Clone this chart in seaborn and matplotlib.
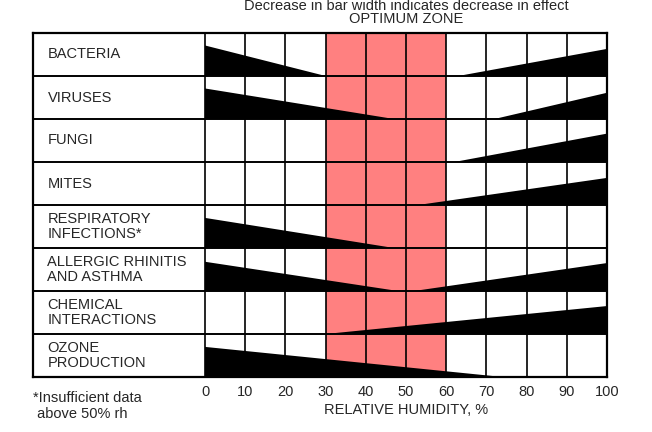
import numpy as np
import seaborn as sns
import matplotlib.pyplot as plt
from matplotlib.transforms import blended_transform_factory

# Effects and their wedge shapes (fraction of row height, RH % where wedge vanishes)
effects = ['BACTERIA', 'VIRUSES', 'FUNGI', 'MITES', 'RESPIRATORY\nINFECTIONS*',
           'ALLERGIC RHINITIS\nAND ASTHMA', 'CHEMICAL\nINTERACTIONS', 'OZONE\nPRODUCTION']
left_height = [0.71, 0.71, 0, 0, 0.70, 0.68, 0, 0.70]     # bar width at 0% rh
left_end = [30, 47, 0, 0, 47, 48, 0, 74]                  # rh where left bar ends
right_start = [63, 72, 62, 53, None, 52, 30, None]        # rh where right bar starts
right_height = [0.63, 0.61, 0.66, 0.63, 0, 0.65, 0.65, 0]  # bar width at 100% rh
rh_ticks = [0, 10, 20, 30, 40, 50, 60, 70, 80, 90, 100]
optimum = (30, 60)

sns.set_theme(style='white')
plt.rcParams['font.family'] = ['Liberation Sans', 'DejaVu Sans']
fs = 10.5

fig = plt.figure(figsize=(6.52, 4.32), dpi=100)
ax = fig.add_axes([33 / 652, 55 / 432, 574 / 652, 344 / 432])
x_min = -(205 - 33) / 4.02
ax.set_xlim(x_min, 100)
ax.set_ylim(len(effects), 0)

# optimum zone
ax.axvspan(optimum[0], optimum[1], color='#ff8080', zorder=0, lw=0)

# wedges
for i, name in enumerate(effects):
    bottom = i + 1
    if left_height[i] > 0:
        ax.fill([0, 0, left_end[i]], [bottom, bottom - left_height[i], bottom],
                color='black', lw=0, zorder=2)
    if right_start[i] is not None and right_height[i] > 0:
        ax.fill([right_start[i], 100, 100], [bottom, bottom - right_height[i], bottom],
                color='black', lw=0, zorder=2)
    ax.text(x_min + 3.6, i + 0.5, name, va='center', ha='left', fontsize=fs,
            linespacing=1.05, zorder=3)

# grid
for x in rh_ticks:
    ax.axvline(x, color='black', lw=1.2, zorder=1)
for j in range(1, len(effects)):
    ax.axhline(j, color='black', lw=1.4, zorder=3)
for s in ax.spines.values():
    s.set_color('black')
    s.set_linewidth(1.6)
    s.set_visible(True)

ax.set_xticks(rh_ticks)
ax.set_xticklabels([str(t) for t in rh_ticks], fontsize=fs)
ax.tick_params(axis='x', length=0, pad=6)
ax.set_yticks([])

tr = blended_transform_factory(ax.transData, fig.transFigure)
ax.text(50, 1 - 410 / 432, 'RELATIVE HUMIDITY, %', transform=tr, ha='center', va='center', fontsize=fs)
ax.text(50, 1 - 6 / 432, 'Decrease in bar width indicates decrease in effect',
        transform=tr, ha='center', va='center', fontsize=fs)
ax.text(50, 1 - 19 / 432, 'OPTIMUM ZONE', transform=tr, ha='center', va='center', fontsize=fs)
ax.text(x_min, 1 - 398 / 432, '*Insufficient data', transform=tr,
        ha='left', va='center', fontsize=fs)
ax.text(x_min, 1 - 414 / 432, ' above 50% rh', transform=tr,
        ha='left', va='center', fontsize=fs)

fig.savefig('out.png', dpi=100)
